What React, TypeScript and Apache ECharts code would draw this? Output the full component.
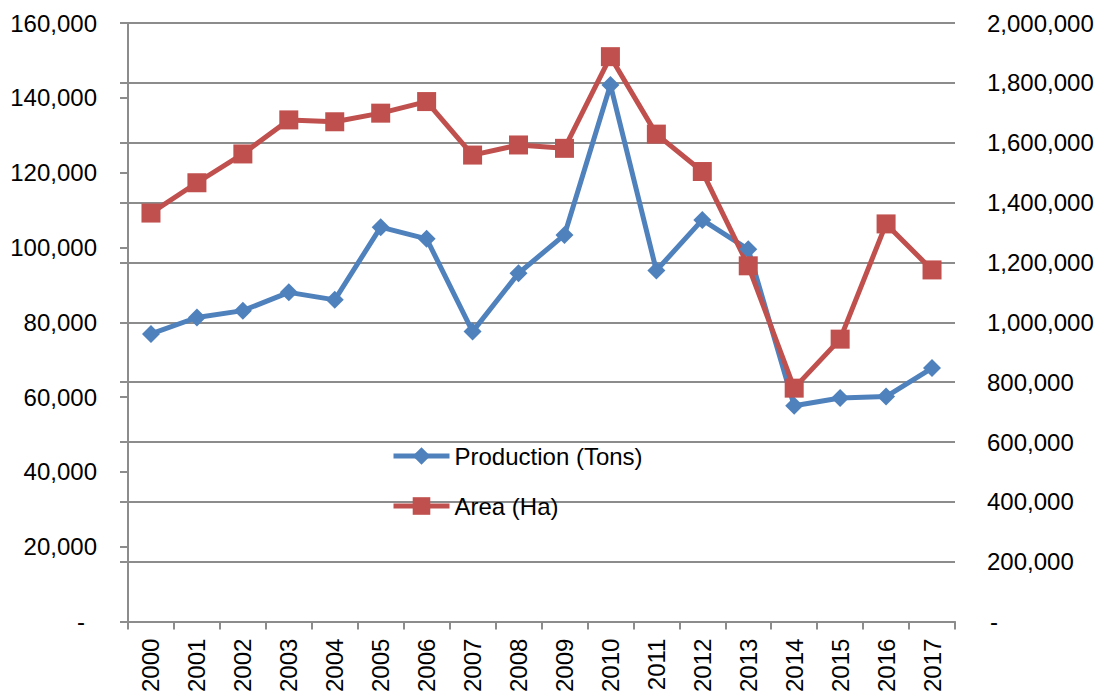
import React, { useEffect, useRef } from "react";
import * as echarts from "echarts";

// Yearly production (tons, right axis) and harvested area (ha, left axis)
const years: string[] = [
  "2000", "2001", "2002", "2003", "2004", "2005", "2006", "2007", "2008",
  "2009", "2010", "2011", "2012", "2013", "2014", "2015", "2016", "2017",
];

const production: number[] = [
  961000, 1016000, 1039000, 1100000, 1075000, 1318000, 1279000, 969000, 1164000,
  1292000, 1793000, 1173000, 1342000, 1244000, 721000, 747000, 752000, 847000,
];

const area: number[] = [
  109200, 117300, 125000, 134100, 133600, 135900, 139000, 124700, 127400,
  126500, 151000, 130300, 120300, 95100, 62400, 75500, 106300, 94000,
];

const leftTicks = { min: 0, max: 160000, interval: 20000 };
const rightTicks = { min: 0, max: 2000000, interval: 200000 };

const BLUE = "#4F81BD";
const RED = "#C0504D";
const GRID = "#8c8c8c";
const FONT = "Liberation Sans";
const LINE_W = 5;

const fmt = (v: number) => v.toLocaleString("en-US");

export default function App() {
  const ref = useRef<HTMLDivElement>(null);

  useEffect(() => {
    if (!ref.current) return;
    const chart = echarts.init(ref.current, null, { renderer: "svg" });
    chart.setOption({
      animation: false,
      backgroundColor: "#ffffff",
      textStyle: { fontFamily: FONT },
      grid: { left: 128, right: 144, top: 23, bottom: 73, containLabel: false },
      legend: {
        left: 391,
        top: 444,
        orient: "vertical",
        padding: 0,
        itemWidth: 56,
        itemHeight: 22,
        itemGap: 26,
        lineStyle: { width: LINE_W },
        textStyle: { fontFamily: FONT, fontSize: 24, color: "#000" },
        data: ["Production (Tons)", "Area (Ha)"],
      },
      xAxis: {
        type: "category",
        data: years,
        boundaryGap: true,
        axisLine: { lineStyle: { color: GRID, width: 2 } },
        axisTick: { show: true, length: 8, lineStyle: { color: GRID, width: 2 } },
        axisLabel: {
          rotate: 90,
          margin: 17,
          fontSize: 24,
          fontFamily: FONT,
          color: "#000",
          interval: 0,
        },
        splitLine: { show: false },
      },
      yAxis: [
        {
          type: "value",
          position: "left",
          ...leftTicks,
          axisLine: { show: true, lineStyle: { color: GRID, width: 2 } },
          axisTick: { show: true, length: 8, lineStyle: { color: GRID, width: 2 } },
          splitLine: { show: false },
          axisLabel: {
            margin: 31,
            fontSize: 24,
            fontFamily: FONT,
            color: "#000",
            formatter: (v: number) => (v === 0 ? "{z|-}" : fmt(v)),
            rich: { z: { fontSize: 24, fontFamily: FONT, color: "#000", padding: [0, 12, 0, 0] } },
          },
        },
        {
          type: "value",
          position: "right",
          ...rightTicks,
          axisLine: { show: false },
          axisTick: { show: false },
          splitLine: { show: true, lineStyle: { color: GRID, width: 2 } },
          axisLabel: {
            margin: 32,
            fontSize: 24,
            fontFamily: FONT,
            color: "#000",
            formatter: (v: number) => (v === 0 ? "{z|-}" : fmt(v)),
            rich: { z: { fontSize: 24, fontFamily: FONT, color: "#000", padding: [0, 0, 0, 3] } },
          },
        },
        {
          // gridline stubs reaching past the left axis line
          type: "value",
          position: "left",
          ...rightTicks,
          axisLine: { show: false },
          axisTick: { show: true, length: 8, lineStyle: { color: GRID, width: 2 } },
          axisLabel: { show: false },
          splitLine: { show: false },
        },
      ],
      series: [
        {
          name: "Production (Tons)",
          type: "line",
          yAxisIndex: 1,
          data: production,
          symbol: "diamond",
          symbolSize: 18,
          lineStyle: { color: BLUE, width: LINE_W },
          itemStyle: { color: BLUE },
        },
        {
          name: "Area (Ha)",
          type: "line",
          yAxisIndex: 0,
          data: area,
          symbol: "rect",
          symbolSize: 19,
          lineStyle: { color: RED, width: LINE_W },
          itemStyle: { color: RED },
        },
      ],
    });
    return () => chart.dispose();
  }, []);

  return (
    <div
      ref={ref}
      style={{ position: "fixed", left: 0, top: 0, width: 1099, height: 695, background: "#fff" }}
    />
  );
}
